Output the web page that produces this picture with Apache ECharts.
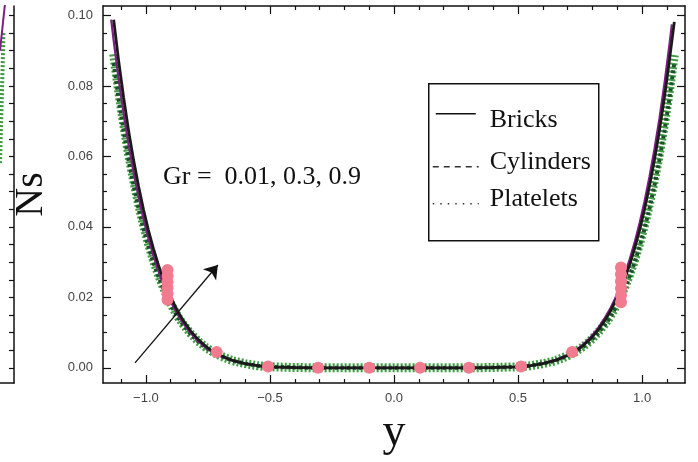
<!DOCTYPE html>
<html>
<head>
<meta charset="utf-8">
<script src="https://cdn.jsdelivr.net/npm/echarts@6/dist/echarts.min.js"></script>
<style>
  html, body { margin: 0; padding: 0; background: #ffffff; }
  #chart { width: 698px; height: 462px; }
</style>
</head>
<body>
<div id="chart"></div>
<script>
// Entropy generation number Ns across the channel width y
const yPos = [-1.13, -1.11, -1.09, -1.07, -1.05, -1.03, -1.01, -0.99, -0.97, -0.95, -0.93, -0.91, -0.89, -0.87, -0.85,
  -0.82, -0.79, -0.76, -0.73, -0.7, -0.65, -0.6, -0.55, -0.5, -0.4, -0.3, -0.2, -0.1,
  0,
  0.1, 0.2, 0.3, 0.4, 0.5, 0.55, 0.6, 0.65, 0.7, 0.73, 0.76, 0.79, 0.82,
  0.85, 0.87, 0.89, 0.91, 0.93, 0.95, 0.97, 0.99, 1.01, 1.03, 1.05, 1.07, 1.09, 1.11, 1.13];

// Bricks, first Grashof number (black)
const bricks = [0.0988, 0.0872, 0.0768, 0.0674, 0.0591, 0.0517, 0.0450, 0.0391, 0.0339, 0.0293, 0.0253, 0.0217, 0.0186, 0.0158, 0.0135,
  0.0105, 0.0081, 0.0062, 0.0046, 0.0035, 0.0021, 0.0012, 0.0006, 0.0003, 0.0001, 0, 0, 0,
  0,
  0, 0, 0, 0.0001, 0.0003, 0.0006, 0.0012, 0.0021, 0.0035, 0.0046, 0.0062, 0.0081, 0.0105,
  0.0135, 0.0158, 0.0186, 0.0217, 0.0253, 0.0293, 0.0339, 0.0391, 0.0450, 0.0517, 0.0591, 0.0674, 0.0768, 0.0872, 0.0982];

// Bricks, second Grashof number (purple), sampled on its own positions
const bricksGrPos = [-1.14, -1.13, -1.11, -1.09, -1.07, -1.05, -1.03, -1.01, -0.99, -0.97, -0.95, -0.93, -0.91, -0.89, -0.87, -0.85,
  -0.82, -0.79, -0.76, -0.73, -0.7, -0.65, -0.6, -0.55, -0.5, -0.4, -0.3, -0.2, -0.1,
  0,
  0.1, 0.2, 0.3, 0.4, 0.5, 0.55, 0.6, 0.65, 0.7, 0.73, 0.76, 0.79, 0.82,
  0.85, 0.87, 0.89, 0.91, 0.93, 0.95, 0.97, 0.99, 1.01, 1.03, 1.05, 1.07, 1.09, 1.11, 1.12];
const bricksGr = [0.0988, 0.0929, 0.0820, 0.0722, 0.0634, 0.0556, 0.0486, 0.0423, 0.0368, 0.0319, 0.0275, 0.0238, 0.0204, 0.0175, 0.0149, 0.0127,
  0.0099, 0.0076, 0.0058, 0.0043, 0.0033, 0.0020, 0.0011, 0.0006, 0.0003, 0.0001, 0, 0, 0,
  0,
  0, 0, 0, 0.0001, 0.0003, 0.0006, 0.0013, 0.0022, 0.0037, 0.0048, 0.0065, 0.0085, 0.0110,
  0.0142, 0.0166, 0.0195, 0.0228, 0.0266, 0.0308, 0.0356, 0.0411, 0.0473, 0.0543, 0.0621, 0.0708, 0.0806, 0.0916, 0.0975];

// Cylinders and platelets
const cylinders = [0.0865, 0.0763, 0.0672, 0.0590, 0.0518, 0.0453, 0.0395, 0.0344, 0.0299, 0.0259, 0.0224, 0.0193, 0.0166, 0.0142, 0.0122,
  0.0096, 0.0075, 0.0058, 0.0044, 0.0034, 0.0020, 0.0012, 0.0006, 0.0003, 0.0001, 0, 0, 0,
  0,
  0, 0, 0, 0.0001, 0.0003, 0.0006, 0.0012, 0.0020, 0.0034, 0.0044, 0.0058, 0.0075, 0.0096,
  0.0122, 0.0142, 0.0166, 0.0193, 0.0224, 0.0259, 0.0299, 0.0344, 0.0395, 0.0453, 0.0518, 0.0590, 0.0672, 0.0763, 0.0865];
const platelets = [0.0890, 0.0785, 0.0692, 0.0607, 0.0533, 0.0466, 0.0406, 0.0353, 0.0306, 0.0265, 0.0229, 0.0197, 0.0169, 0.0144, 0.0124,
  0.0098, 0.0076, 0.0059, 0.0045, 0.0034, 0.0020, 0.0012, 0.0006, 0.0003, 0.0001, 0, 0, 0,
  0,
  0, 0, 0, 0.0001, 0.0003, 0.0006, 0.0012, 0.0020, 0.0034, 0.0045, 0.0059, 0.0076, 0.0098,
  0.0124, 0.0144, 0.0169, 0.0197, 0.0229, 0.0265, 0.0306, 0.0353, 0.0406, 0.0466, 0.0533, 0.0607, 0.0692, 0.0785, 0.0888];

// Plot markers along the curves
const markerPos = [-0.913, -0.913, -0.913, -0.913, -0.913, -0.913, -0.715, -0.508, -0.306, -0.1,
  0.105, 0.302, 0.512, 0.718, 0.915, 0.915, 0.915, 0.915, 0.915, 0.915];
const markerNs = [0.0193, 0.0210, 0.0227, 0.0244, 0.0261, 0.0278, 0.0045, 0.0004, 0, 0,
  0, 0, 0.0004, 0.0045, 0.0186, 0.0206, 0.0226, 0.0246, 0.0266, 0.0285];

// Edge of the neighbouring panel
const sidePos = [0.4, 0.0];
const sidePurple = [0.105, 0.090];
const sideGreenPos = [0.25, 0.12, 0.0];
const sideGreen = [0.095, 0.075, 0.058];

// Tick positions
const xMajor = [-1, -0.5, 0, 0.5, 1];
const xMinor = [-1.1, -0.9, -0.8, -0.7, -0.6, -0.4, -0.3, -0.2, -0.1, 0.1, 0.2, 0.3, 0.4, 0.6, 0.7, 0.8, 0.9, 1.1];
const nsMajor = [0, 0.02, 0.04, 0.06, 0.08, 0.10];
const nsMinor = [0.005, 0.01, 0.015, 0.025, 0.03, 0.035, 0.045, 0.05, 0.055, 0.065, 0.07, 0.075, 0.085, 0.09, 0.095];

const X_MIN = -1.173, X_MAX = 1.173;
const NS_MIN = -0.0043, NS_MAX = 0.1027;

const pairs = (xs, ys) => xs.map((x, i) => [x, ys[i]]);
const serif = 'Liberation Serif';
const ink = '#111111';

function frameAxis(kind, position, ticks, len, opts) {
  const a = {
    type: 'value',
    gridIndex: 0,
    position: position,
    min: kind === 'x' ? X_MIN : NS_MIN,
    max: kind === 'x' ? X_MAX : NS_MAX,
    axisLine: { show: opts.line, onZero: false, lineStyle: { color: ink, width: 1.5 } },
    axisTick: { show: true, inside: true, length: len, customValues: ticks, lineStyle: { color: ink, width: 1.2 } },
    axisLabel: { show: false },
    splitLine: { show: false }
  };
  if (opts.labels) {
    a.axisLabel = {
      show: true,
      customValues: ticks,
      fontFamily: 'Liberation Sans',
      fontSize: 13,
      color: '#444',
      margin: kind === 'x' ? 9 : 10,
      formatter: kind === 'x'
        ? (v) => (v < 0 ? '\u2212' : '') + Math.abs(v).toFixed(1)
        : (v) => v.toFixed(2)
    };
  }
  return Object.assign(a, opts.extra || {});
}

const chart = echarts.init(document.getElementById('chart'), null, { renderer: 'canvas' });

const option = {
  backgroundColor: '#ffffff',
  animation: false,
  grid: [
    { left: 103, right: 13, top: 6, bottom: 79, containLabel: false },
    { left: 0, width: 14, top: 6, bottom: 79, containLabel: false }
  ],
  xAxis: [
    frameAxis('x', 'bottom', xMajor, 8, { line: true, labels: true, extra: {
      name: 'y', nameLocation: 'middle', nameGap: 21,
      nameTextStyle: { fontFamily: serif, fontSize: 46, color: ink }
    } }),
    frameAxis('x', 'bottom', xMinor, 4, { line: false }),
    frameAxis('x', 'top', xMajor, 8, { line: true }),
    frameAxis('x', 'top', xMinor, 4, { line: false }),
    { type: 'value', gridIndex: 1, min: 0, max: 1, position: 'bottom',
      axisLine: { show: true, onZero: false, lineStyle: { color: ink, width: 1.5 } },
      axisTick: { show: false }, axisLabel: { show: false }, splitLine: { show: false } }
  ],
  yAxis: [
    frameAxis('y', 'left', nsMajor, 8, { line: true, labels: true, extra: {
      name: 'Ns', nameLocation: 'middle', nameGap: 52, nameRotate: 90,
      nameTextStyle: { fontFamily: serif, fontSize: 40, color: ink }
    } }),
    frameAxis('y', 'left', nsMinor, 4, { line: false }),
    frameAxis('y', 'right', nsMajor, 8, { line: true }),
    frameAxis('y', 'right', nsMinor, 4, { line: false }),
    { type: 'value', gridIndex: 1, min: NS_MIN, max: NS_MAX, position: 'right',
      axisLine: { show: true, onZero: false, lineStyle: { color: ink, width: 1.5 } },
      axisTick: { show: true, inside: true, length: 5, customValues: nsMajor.concat(nsMinor), lineStyle: { color: ink, width: 1.2 } },
      axisLabel: { show: false }, splitLine: { show: false } }
  ],
  series: [
    {
      name: 'Platelets', type: 'line', xAxisIndex: 0, yAxisIndex: 0,
      data: pairs(yPos, platelets), showSymbol: false,
      lineStyle: { color: '#3f9e41', width: 9, type: [2, 2] }, silent: true, z: 2
    },
    {
      name: 'Cylinders', type: 'line', xAxisIndex: 0, yAxisIndex: 0,
      data: pairs(yPos, cylinders), showSymbol: false,
      lineStyle: { color: '#1c5229', width: 4, type: [3, 3] }, silent: true, z: 3
    },
    {
      name: 'Bricks Gr', type: 'line', xAxisIndex: 0, yAxisIndex: 0,
      data: pairs(bricksGrPos, bricksGr), showSymbol: false,
      lineStyle: { color: '#7d1f80', width: 2.2 }, silent: true, z: 4
    },
    {
      name: 'Bricks', type: 'line', xAxisIndex: 0, yAxisIndex: 0,
      data: pairs(yPos, bricks), showSymbol: false,
      lineStyle: { color: '#1a1a1a', width: 2.8 }, silent: true, z: 5,
      markLine: {
        silent: true,
        symbol: ['none', 'arrow'],
        symbolSize: 13,
        label: { show: false },
        lineStyle: { color: ink, width: 1.3, type: 'solid' },
        data: [[{ coord: [-1.044, 0.0014] }, { coord: [-0.71, 0.0292] }]]
      }
    },
    {
      name: 'markers', type: 'scatter', xAxisIndex: 0, yAxisIndex: 0,
      data: pairs(markerPos, markerNs), symbol: 'circle', symbolSize: 12,
      itemStyle: { color: '#f27b90', opacity: 1 }, silent: true, z: 6
    },
    {
      type: 'line', xAxisIndex: 4, yAxisIndex: 4, data: pairs(sideGreenPos, sideGreen),
      showSymbol: false, lineStyle: { color: '#3d9a3f', width: 4, type: [2, 2] }, silent: true
    },
    {
      type: 'line', xAxisIndex: 4, yAxisIndex: 4, data: pairs(sidePos, sidePurple),
      showSymbol: false, lineStyle: { color: '#7d1f80', width: 2 }, silent: true
    }
  ],
  graphic: [
    {
      type: 'text', left: 163, top: 164, silent: true,
      style: { text: 'Gr =  0.01, 0.3, 0.9', font: '26px "Liberation Serif"', fill: ink }
    },
    {
      type: 'group', left: 428, top: 83, silent: true,
      children: [
        { type: 'rect', shape: { x: 0, y: 0, width: 170, height: 157 }, style: { fill: '#fff', stroke: ink, lineWidth: 1.5 } },
        { type: 'line', shape: { x1: 7, y1: 30, x2: 47, y2: 30 }, style: { stroke: ink, lineWidth: 1.6 } },
        { type: 'line', shape: { x1: 4, y1: 83, x2: 50, y2: 83 }, style: { stroke: '#333', lineWidth: 1.6, lineDash: [6, 5] } },
        { type: 'line', shape: { x1: 4, y1: 120, x2: 50, y2: 120 }, style: { stroke: '#333', lineWidth: 1.6, lineDash: [1.5, 6] } },
        { type: 'text', x: 61, y: 36, style: { text: 'Bricks', font: '26px "Liberation Serif"', fill: ink, verticalAlign: 'middle' } },
        { type: 'text', x: 61, y: 78, style: { text: 'Cylinders', font: '26px "Liberation Serif"', fill: ink, verticalAlign: 'middle' } },
        { type: 'text', x: 61, y: 115, style: { text: 'Platelets', font: '26px "Liberation Serif"', fill: ink, verticalAlign: 'middle' } }
      ]
    }
  ]
};

chart.setOption(option);
</script>
</body>
</html>
